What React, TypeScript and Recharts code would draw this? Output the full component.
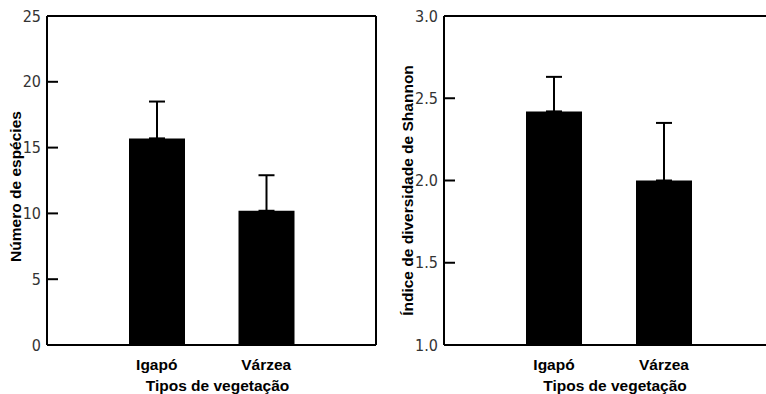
import { BarChart, Bar, XAxis, YAxis, ErrorBar, Label } from "recharts";

const categories = ["Igapó", "Várzea"];
const speciesMean = [15.7, 10.2];
const speciesErr = [2.8, 2.7];
const shannonMean = [2.42, 2.0];
const shannonErr = [0.21, 0.35];
const speciesTicks = [0, 5, 10, 15, 20, 25];
const shannonTicks = [1.0, 1.5, 2.0, 2.5, 3.0];

const speciesData = categories.map((name, i) => ({ name, value: speciesMean[i], err: [0, speciesErr[i]] }));
const shannonData = categories.map((name, i) => ({ name, value: shannonMean[i], err: [0, shannonErr[i]] }));

const numFont = "'Liberation Sans Narrow', 'Arial Narrow', 'DejaVu Sans Condensed', sans-serif";
const boldFont = "'Liberation Sans', Arial, sans-serif";
const axisStroke = { stroke: "#000", strokeWidth: 2 };
const tickStroke = { stroke: "#000", strokeWidth: 2 };

function Panel({ data, ticks, domain, yLabel, fmt, yWidth, width, labelX, labelDy }: any) {
  return (
    <BarChart width={width} height={394} data={data} margin={{ top: 15, right: 0, bottom: 0, left: 0 }}>
      <XAxis
        dataKey="name"
        height={49}
        padding={{ left: 55, right: 55 }}
        axisLine={axisStroke}
        tickLine={false}
        tickMargin={8}
        tick={{ fill: "#000", fontSize: 15.5, fontWeight: 700, fontFamily: boldFont }}
      >
        <Label value="Tipos de vegetação" position="insideBottom" offset={3} dx={6} fill="#000" fontSize={15.5} fontWeight={700} fontFamily={boldFont} />
      </XAxis>
      <XAxis xAxisId="top" dataKey="name" orientation="top" height={1} padding={{ left: 55, right: 55 }} axisLine={axisStroke} tick={false} tickLine={tickStroke} tickSize={-11} />
      <YAxis
        width={yWidth}
        domain={domain}
        ticks={ticks}
        interval={0}
        tickFormatter={fmt}
        axisLine={axisStroke}
        tickLine={tickStroke}
        tickSize={-11}
        tickMargin={17}
        tick={{ fill: "#333", fontSize: 16, fontFamily: numFont }}
      >
        <Label value={yLabel} angle={-90} position="insideLeft" offset={labelX} dy={labelDy} fill="#000" fontSize={15.5} fontWeight={700} fontFamily={boldFont} style={{ textAnchor: "middle" }} />
      </YAxis>
      <YAxis yAxisId="right" orientation="right" width={1} domain={domain} ticks={ticks} interval={0} axisLine={axisStroke} tick={false} tickLine={tickStroke} tickSize={-10} />
      <Bar dataKey="value" fill="#000" barSize={56} isAnimationActive={false}>
        <ErrorBar dataKey="err" width={8} stroke="#000" strokeWidth={2} direction="y" />
      </Bar>
      <Bar dataKey="value" xAxisId="top" yAxisId="right" fill="none" barSize={56} isAnimationActive={false} />
    </BarChart>
  );
}

export default function App() {
  return (
    <div style={{ position: "absolute", left: 0, top: 0, width: 766, height: 394, overflow: "hidden", background: "#fff" }}>
      <div style={{ position: "absolute", left: 0, top: 0 }}>
        <Panel data={speciesData} ticks={speciesTicks} domain={[0, 25]} yLabel="Número de espécies" fmt={(v: number) => String(v)} yWidth={47} width={377} labelX={15} labelDy={6} />
      </div>
      <div style={{ position: "absolute", left: 383, top: 0 }}>
        <Panel data={shannonData} ticks={shannonTicks} domain={[1, 3]} yLabel="Índice de diversidade de Shannon" fmt={(v: number) => v.toFixed(1)} yWidth={61} width={392} labelX={24} labelDy={10} />
      </div>
    </div>
  );
}
